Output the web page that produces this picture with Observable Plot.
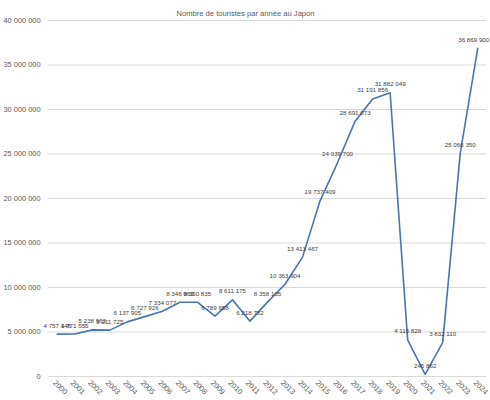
<!DOCTYPE html>
<html>
<head>
<meta charset="utf-8">
<script src="https://cdn.jsdelivr.net/npm/d3@7"></script>
<script src="https://cdn.jsdelivr.net/npm/@observablehq/plot@0.6"></script>
<style>
  body { margin: 0; background: #fff; }
</style>
</head>
<body>
<div id="chart"></div>
<script>
const years = ["2000","2001","2002","2003","2004","2005","2006","2007","2008","2009","2010","2011","2012",
  "2013","2014","2015","2016","2017","2018","2019","2020","2021","2022","2023","2024"];
const tourists = [4757146, 4771555, 5238963, 5211725, 6137905, 6727926, 7334077, 8346969, 8350835,
  6789658, 8611175, 6218752, 8358105, 10363904, 13413467, 19737409, 24039700, 28691073, 31191856,
  31882049, 4115828, 245862, 3832110, 25066350, 36869900];
const yTicks = [0, 5000000, 10000000, 15000000, 20000000, 25000000, 30000000, 35000000, 40000000];
const title = "Nombre de touristes par année au Japon";

// espace comme séparateur de milliers
const fr = d3.formatLocale({decimal: ",", thousands: " ", grouping: [3], currency: ["", " €"]});
const fmt = fr.format(",d");

const data = years.map((y, i) => ({year: y, value: tourists[i]}));
const last = data.length - 1;

const chart = Plot.plot({
  width: 490,
  height: 400,
  marginTop: 20,
  marginBottom: 24,
  marginLeft: 48,
  marginRight: 4,
  style: {
    "font-family": "Liberation Sans, Arial, sans-serif",
    "font-size": "7.4px",
    color: "#595959",
    background: "#fff"
  },
  x: {type: "point", domain: years, padding: 0.5, round: false, label: null},
  y: {domain: [0, 40000000], label: null},
  marks: [
    Plot.gridY(yTicks, {stroke: "#d9d9d9", strokeOpacity: 1}),
    Plot.axisY(yTicks, {tickSize: 0, tickPadding: 8, tickFormat: fmt, fill: "#595959", label: null}),
    Plot.axisX({tickSize: 0, tickPadding: 5, tickRotate: 45, dx: -3, fill: "#595959", fontSize: 7.5, label: null}),
    Plot.line(data, {x: "year", y: "value", stroke: "#4a74b4", strokeWidth: 1.6}),
    Plot.text(data.slice(0, last), {x: "year", y: "value", text: d => fmt(d.value), dy: -8.5, fill: "#404040", fontSize: 6.2}),
    // dernière étiquette décalée pour rester dans le cadre
    Plot.text(data.slice(last), {x: "year", y: "value", text: d => fmt(d.value), dx: -4, dy: -8.5, fill: "#404040", fontSize: 6.2}),
    Plot.text([title], {frameAnchor: "top", dx: -22, dy: -10, fontSize: 7.6, fill: "#595959"})
  ]
});

d3.select("#chart").append(() => chart);
</script>
</body>
</html>
